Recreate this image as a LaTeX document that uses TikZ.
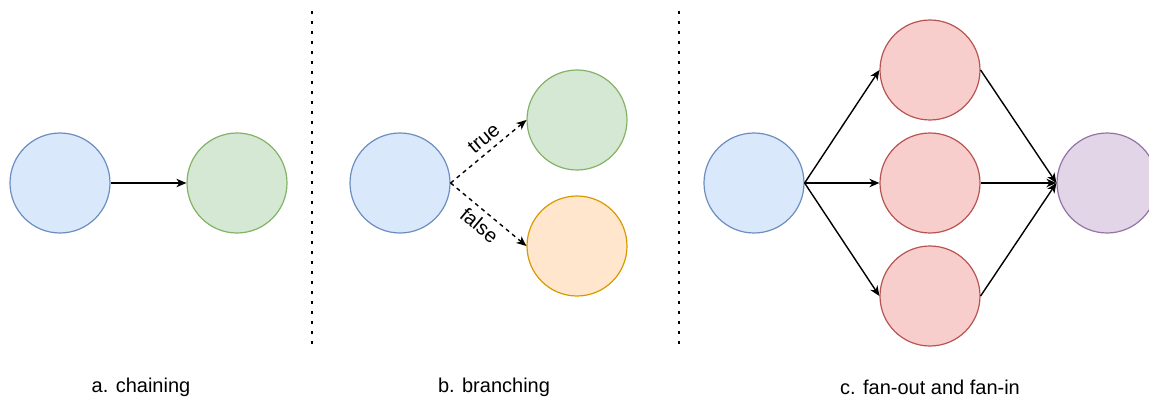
\documentclass[tikz,border=0pt]{standalone}
\usepackage{fontspec}
\setmainfont{Liberation Sans}
\usetikzlibrary{arrows.meta}
\definecolor{bluef}{HTML}{DAE8FC}\definecolor{blued}{HTML}{6C8EBF}
\definecolor{greenf}{HTML}{D5E8D4}\definecolor{greend}{HTML}{82B366}
\definecolor{orangef}{HTML}{FFE6CC}\definecolor{oranged}{HTML}{D79B00}
\definecolor{redf}{HTML}{F8CECC}\definecolor{redd}{HTML}{B85450}
\definecolor{purplef}{HTML}{E1D5E7}\definecolor{purpled}{HTML}{9673A6}
\tikzset{
  ball/.style={circle, minimum size=100pt, inner sep=0pt, line width=1.2pt, draw},
  bluenode/.style={ball, fill=bluef, draw=blued},
  greennode/.style={ball, fill=greenf, draw=greend},
  orangenode/.style={ball, fill=orangef, draw=oranged},
  rednode/.style={ball, fill=redf, draw=redd},
  purplenode/.style={ball, fill=purplef, draw=purpled},
  conn/.style={line width=1.4pt, -{Stealth[length=10pt,width=8.5pt,inset=3pt]}},
  dconn/.style={conn, dash pattern=on 4pt off 4pt},
  sep/.style={line width=2.6pt, dash pattern=on 2.6pt off 7.4pt},
  lbl/.style={font=\fontsize{20}{24}\selectfont, inner sep=0pt},
}
\begin{document}
\begin{tikzpicture}[x=1pt,y=-1pt]
\useasboundingbox (0,0) rectangle (1149,401);
\clip (0,0) rectangle (1149,401);
% a. chaining
\node[bluenode] (a1) at (60,183) {};
\node[greennode] (a2) at (237,183) {};
\draw[conn] (a1.east) -- (a2.west);
% separators
\coordinate (s1t) at (312,11); \coordinate (s1b) at (312,347);
\coordinate (s2t) at (679,11); \coordinate (s2b) at (679,347);
\draw[sep] (s1t) -- (s1b);
\draw[sep] (s2t) -- (s2b);
% b. branching
\node[bluenode] (b1) at (400,183) {};
\node[greennode] (b2) at (577,120) {};
\node[orangenode] (b3) at (577,246) {};
\draw[dconn] (b1.east) -- node[lbl, sloped, above=6pt, pos=0.55] {true} (b2.west);
\draw[dconn] (b1.east) -- node[lbl, sloped, below=6pt, pos=0.5] {false} (b3.west);
% c. fan-out and fan-in
\node[bluenode] (c1) at (754,183) {};
\node[rednode] (r1) at (930,70) {};
\node[rednode] (r2) at (930,183) {};
\node[rednode] (r3) at (930,296) {};
\node[purplenode] (p) at (1107,183) {};
\draw[conn] (c1.east) -- (r1.west);
\draw[conn] (c1.east) -- (r2.west);
\draw[conn] (c1.east) -- (r3.west);
\draw[conn] (r1.east) -- (p.west);
\draw[conn] (r2.east) -- (p.west);
\draw[conn] (r3.east) -- (p.west);
% captions
\node[lbl] (ca) at (141,387) {a. chaining};
\node[lbl] (cb) at (494,387) {b. branching};
\node[lbl] (cc) at (930,387) {c. fan-out and fan-in};
\end{tikzpicture}
\end{document}
